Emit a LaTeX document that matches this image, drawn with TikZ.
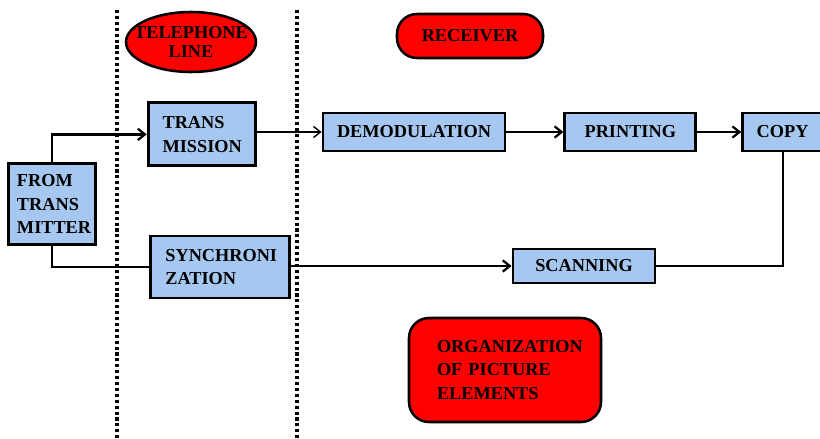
\documentclass[tikz,border=0pt]{standalone}
\usepackage{fontspec}
\setmainfont{Liberation Serif}
\usetikzlibrary{positioning,shapes.geometric,arrows.meta}

\definecolor{boxblue}{RGB}{166,200,240}
\definecolor{tagred}{RGB}{255,0,0}

\tikzset{
  blk/.style={draw, line width=2pt, fill=boxblue, font=\fontsize{13}{17}\selectfont\bfseries, inner sep=0pt},
  tag/.style={draw, line width=1.8pt, fill=tagred, font=\fontsize{13}{17}\selectfont\bfseries, inner sep=0pt},
  lane/.style={line width=2.6pt, dash pattern=on 2.2pt off 2pt},
  wire/.style={line width=1.6pt},
  feed/.style={wire, -{Straight Barb[length=5pt,width=8pt]}}
}

\begin{document}
\begin{tikzpicture}[node distance=1cm, auto]
  \useasboundingbox (0,0) rectangle (20.5,-10.975);

  % lanes
  \draw[lane] (2.925,-0.25) -- (2.925,-10.975);
  \draw[lane] (7.425,-0.25) -- (7.425,-10.975);

  % labels
  \node[tag, ellipse, inner xsep=-12pt, inner ysep=-6pt, minimum width=3.25cm, minimum height=1.5cm, align=center] (tel) at (4.775,-1.05) {TELEPHONE\\[-4pt]LINE};
  \node[tag, rounded corners=0.5cm, minimum width=3.65cm, minimum height=1.1cm] (recv) at (11.75,-0.9) {RECEIVER};
  \node[tag, rounded corners=0.5cm, minimum width=4.8cm, minimum height=2.6cm, text width=3.4cm, align=left] (org) at (12.625,-9.25)
    {ORGANIZATION\\OF PICTURE\\ELEMENTS};

  % blocks
  \node[blk, minimum width=2.175cm, minimum height=2.025cm, text width=1.75cm, align=left] (from) at (1.3,-5.1) {FROM\\TRANS\\MITTER};
  \node[blk, minimum width=2.675cm, minimum height=1.575cm, text width=1.95cm, align=left] (trans) at (5.04,-3.36) {TRANS\\MISSION};
  \node[blk, minimum width=3.475cm, minimum height=1.55cm, text width=2.75cm, align=left] (sync) at (5.51,-6.675) {SYNCHRONI\\ZATION};
  \node[blk, minimum width=4.55cm, minimum height=0.95cm] (demod) at (10.35,-3.3) {DEMODULATION};
  \node[blk, minimum width=3.275cm, minimum height=0.95cm] (print) [right=1.425cm of demod] {PRINTING};
  \node[blk, minimum width=2.0cm, minimum height=0.95cm] (copy) [right=1.1cm of print] {COPY};
  \node[blk, minimum width=3.55cm, minimum height=0.85cm] (scan) at (14.6,-6.65) {SCANNING};

  % connectors
  \draw[feed] (from.north) |- (trans.west);
  \draw[wire] (from.south) |- (sync.west);
  \draw[feed, line width=1pt] (trans.east |- demod.west) -- (demod.west);
  \draw[feed] (demod) -- (print);
  \draw[feed] (print) -- (copy);
  \draw[wire] (copy.south) |- (scan.east);
  \draw[feed] (sync.east |- scan.west) -- (scan.west);
\end{tikzpicture}
\end{document}
